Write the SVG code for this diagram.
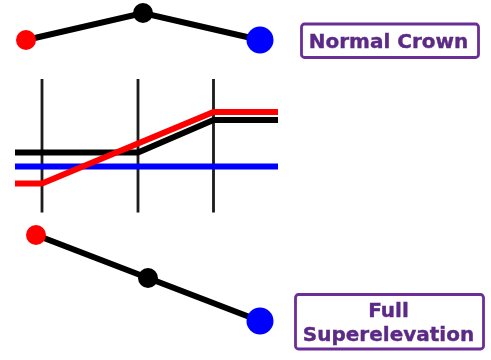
<svg xmlns="http://www.w3.org/2000/svg" width="491" height="360" viewBox="0 0 491 360">
<defs><filter id="soft" x="0" y="0" width="491" height="360" filterUnits="userSpaceOnUse"><feGaussianBlur stdDeviation="0.55"/></filter></defs>
<style>
.post{stroke:#1a1a1a;stroke-width:2.8;fill:none}
.thick{stroke:#000;stroke-width:6;fill:none}
.trace{fill:none;stroke-width:6}
.box{fill:#fff;stroke:#6a2f96;stroke-width:2.800}
.lab{font-family:"DejaVu Sans",sans-serif;font-weight:700;font-size:20px;fill:#5b2a86;stroke:#5b2a86;stroke-width:0.4;text-anchor:middle}
.r{fill:#f00}.k{fill:#000}.b{fill:#00f}
</style>
<rect width="491" height="360" fill="#fff"/>
<g filter="url(#soft)">
<g id="connectors">
<path class="thick" d="M26 40L143 13L260 40"/>
<path class="post" d="M42 79V212.500M138 79V212.500M213.500 79V212.500"/>
<path class="trace" d="M15 152.500H138L213.500 120H278" stroke="#000"/>
<path class="trace" d="M15 166.500H278" stroke="#00f"/>
<path class="trace" d="M15 183.500H42L213.500 112H278" stroke="#f00"/>
<path class="thick" d="M36 235L148 278L260 321"/>
</g>
<g id="crown-left"><circle class="r" cx="26" cy="40" r="10"/></g>
<g id="crown-mid"><circle class="k" cx="143" cy="13" r="10"/></g>
<g id="crown-right"><circle class="b" cx="260" cy="40" r="13.500"/></g>
<g id="super-left"><circle class="r" cx="36" cy="235" r="10"/></g>
<g id="super-mid"><circle class="k" cx="148" cy="278" r="10"/></g>
<g id="super-right"><circle class="b" cx="260" cy="321" r="13.500"/></g>
<g id="label-normal"><rect class="box" x="301.500" y="24" width="177" height="33.500" rx="3"/><text class="lab" x="388.500" y="47.500">Normal Crown</text></g>
<g id="label-super"><rect class="box" x="295.500" y="294.500" width="188" height="54.500" rx="3"/><text class="lab" x="388.500" y="316.500">Full</text><text class="lab" x="388.500" y="341">Superelevation</text></g>
</g>
</svg>
